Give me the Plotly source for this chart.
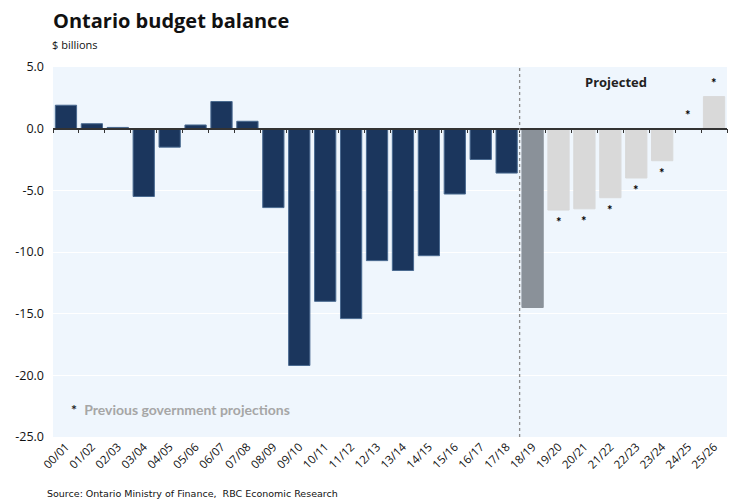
import plotly.graph_objects as go

years = ["00/01", "01/02", "02/03", "03/04", "04/05", "05/06", "06/07", "07/08",
         "08/09", "09/10", "10/11", "11/12", "12/13", "13/14", "14/15", "15/16",
         "16/17", "17/18", "18/19", "19/20", "20/21", "21/22", "22/23", "23/24",
         "24/25", "25/26"]
balance = [1.9, 0.4, 0.1, -5.5, -1.5, 0.3, 2.2, 0.6,
           -6.4, -19.2, -14.0, -15.4, -10.7, -11.5, -10.3, -5.3,
           -2.5, -3.6, -14.5, -6.6, -6.5, -5.6, -4.0, -2.6,
           0.0, 2.6]
kind = ["actual"] * 18 + ["current"] + ["previous"] * 7
y_ticks = [5, 0, -5, -10, -15, -20, -25]
y_tick_text = ["5.0", "0.0", "-5.0", "-10.0", "-15.0", "-20.0", "-25.0"]

colors = {"actual": "#1B365D", "current": "#8A9199", "previous": "#D9D9D9"}
bar_colors = [colors[k] for k in kind]
line_colors = ["#4A6A90" if k == "actual" else colors[k] for k in kind]

fig = go.Figure()
fig.add_trace(go.Bar(x=years, y=balance, marker=dict(color=bar_colors,
                     line=dict(color=line_colors, width=1)),
                     showlegend=False, hoverinfo="x+y"))
# invisible trace to bind the zero-line axis
fig.add_trace(go.Scatter(x=years, y=[None] * len(years), xaxis="x2",
                         showlegend=False, hoverinfo="skip"))

for yr, v, k in zip(years, balance, kind):
    if k == "previous":
        fig.add_annotation(x=yr, y=v, text="<b>*</b>", showarrow=False,
                           yshift=(-12 if v < 0 else 14),
                           font=dict(family="Lato", size=13, color="#000000"))

fig.add_shape(type="line", xref="x", yref="paper", x0=17.5, x1=17.5, y0=0, y1=1,
              line=dict(color="#8C8C8C", width=1.3, dash="dot"), layer="above")

fig.add_annotation(x=21.2, y=3.8, xref="x", yref="y", text="<b>Projected</b>",
                   showarrow=False, font=dict(family="Open Sans", size=13, color="#222222"))
fig.add_annotation(x=0.1, y=-22.8, xref="x", yref="y", xanchor="left",
                   text="<b>*</b>  <b><span style='color:#A6A6A6'>Previous government projections</span></b>",
                   showarrow=False, font=dict(family="Lato", size=14, color="#222222"))

fig.update_layout(
    width=734, height=503,
    margin=dict(l=53, r=7, t=67, b=66),
    paper_bgcolor="white",
    plot_bgcolor="#EFF6FD",
    bargap=0.18,
    title=dict(text="<b>Ontario budget balance</b>", x=0, xref="paper", xanchor="left",
               y=0.958, yanchor="middle",
               font=dict(family="Open Sans", size=20, color="#111111")),
    font=dict(family="Open Sans", color="#111111"),
    xaxis=dict(type="category", range=[-0.5, 25.5], tickangle=-45,
               tickfont=dict(family="Open Sans", size=11.5, color="#111111"),
               showgrid=False, showline=False, ticks="", zeroline=False),
    xaxis2=dict(type="category", range=[-0.5, 25.5], overlaying="x", anchor="free",
                position=25 / 30, side="bottom", showticklabels=False,
                showline=True, linecolor="#333333", linewidth=1.5,
                ticks="outside", tickson="boundaries", ticklen=4, tickcolor="#333333",
                showgrid=False, zeroline=False),
    yaxis=dict(range=[-25, 5], tickmode="array", tickvals=y_ticks, ticktext=y_tick_text,
               tickfont=dict(family="Open Sans", size=12.5, color="#111111"),
               gridcolor="#FFFFFF", gridwidth=1.2, zeroline=False, showline=False,
               ticks="", ticklabelstandoff=8),
)
fig.add_annotation(x=0, y=1.06, xref="paper", yref="paper", xanchor="left",
                   yanchor="middle", xshift=-3, text="$ billions", showarrow=False,
                   font=dict(family="Open Sans", size=11, color="#111111"))
fig.add_annotation(x=0, y=0, xref="paper", yref="paper", xanchor="left",
                   yanchor="bottom", yshift=-64, xshift=-8,
                   text="Source: Ontario Ministry of Finance,  RBC Economic Research",
                   showarrow=False,
                   font=dict(family="DejaVu Sans", size=9.5, color="#111111"))

fig.write_html("out.html")
